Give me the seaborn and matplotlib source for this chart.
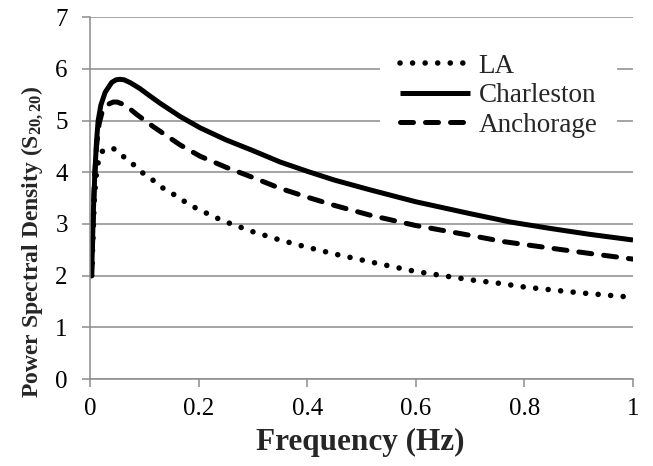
import matplotlib
matplotlib.use("Agg")
import matplotlib.pyplot as plt
import seaborn as sns
import pandas as pd

# ---- data ----
freq_la = [0.003, 0.008, 0.012, 0.016, 0.022, 0.030, 0.037, 0.043, 0.052, 0.061, 0.080, 0.098, 0.117,
           0.135, 0.153, 0.175, 0.193, 0.230, 0.258, 0.300, 0.350, 0.400, 0.450, 0.528,
           0.600, 0.700, 0.755, 0.800, 0.900, 1.000]
psd_la = [2.00, 3.50, 4.00, 4.25, 4.40, 4.46, 4.47, 4.46, 4.40, 4.31, 4.15, 3.98, 3.84,
          3.69, 3.58, 3.43, 3.32, 3.13, 3.01, 2.85, 2.69, 2.55, 2.42, 2.24,
          2.08, 1.92, 1.85, 1.78, 1.67, 1.58]

freq_ch = [0.003, 0.006, 0.009, 0.012, 0.015, 0.020, 0.028, 0.040, 0.048, 0.055, 0.063, 0.075, 0.092,
           0.110, 0.130, 0.166, 0.203, 0.250, 0.300, 0.350, 0.400, 0.450, 0.516, 0.600,
           0.700, 0.773, 0.850, 0.920, 1.000]
psd_ch = [2.00, 3.20, 4.00, 4.60, 5.00, 5.30, 5.55, 5.74, 5.79, 5.80, 5.79, 5.73, 5.62,
          5.48, 5.33, 5.08, 4.86, 4.63, 4.42, 4.20, 4.02, 3.85, 3.66, 3.43,
          3.20, 3.04, 2.91, 2.80, 2.69]

freq_an = [0.003, 0.008, 0.012, 0.017, 0.022, 0.030, 0.036, 0.043, 0.050, 0.060, 0.072, 0.086, 0.117, 0.166,
           0.203, 0.250, 0.300, 0.350, 0.400, 0.450, 0.516, 0.600, 0.700, 0.761, 0.850,
           0.920, 1.000]
psd_an = [2.00, 3.80, 4.50, 4.95, 5.15, 5.28, 5.33, 5.36, 5.36, 5.32, 5.24, 5.12, 4.88, 4.53,
          4.31, 4.10, 3.90, 3.69, 3.52, 3.36, 3.17, 2.97, 2.78, 2.66, 2.53,
          2.43, 2.32]

labels = ["LA", "Charleston", "Anchorage"]
x_ticks = [0, 0.2, 0.4, 0.6, 0.8, 1]
x_tick_labels = ["0", "0.2", "0.4", "0.6", "0.8", "1"]
y_ticks = [0, 1, 2, 3, 4, 5, 6, 7]

# ---- style ----
sns.set_theme(style="white")
plt.rcParams["font.family"] = ["Liberation Serif", "DejaVu Serif"]
plt.rcParams["mathtext.fontset"] = "custom"
plt.rcParams["mathtext.rm"] = "Liberation Serif"
plt.rcParams["mathtext.bf"] = "Liberation Serif:bold"
plt.rcParams["mathtext.it"] = "Liberation Serif:italic"

fig = plt.figure(figsize=(6.53, 4.66), dpi=100)
ax = fig.add_axes([90 / 653, 1 - 379 / 466, (633 - 90) / 653, (379 - 17.3) / 466])

grey = "#8c8c8c"

series = [
    (freq_la, psd_la, labels[0], dict(linestyle=(0, (0.01, 2.25)), dash_capstyle="round", linewidth=4.0)),
    (freq_ch, psd_ch, labels[1], dict(linestyle="-", linewidth=3.6, solid_capstyle="butt",
                                      solid_joinstyle="round")),
    (freq_an, psd_an, labels[2], dict(linestyle=(0, (2.6, 2.4)), dash_capstyle="round", linewidth=3.6)),
]
for fx, fy, lab, kw in series:
    df = pd.DataFrame({"f": fx, "psd": fy})
    sns.lineplot(data=df, x="f", y="psd", ax=ax, color="black", label=lab, **kw)

ax.set_xlim(0, 1)
ax.set_ylim(0, 7)
ax.set_xticks(x_ticks)
ax.set_xticklabels(x_tick_labels)
ax.set_yticks(y_ticks)

ax.yaxis.grid(True, color=grey, linewidth=1.1)
ax.xaxis.grid(False)
for s in ["top", "right"]:
    ax.spines[s].set_visible(False)
for s in ["left", "bottom"]:
    ax.spines[s].set_color(grey)
    ax.spines[s].set_linewidth(1.1)

ax.tick_params(axis="both", which="major", direction="out", length=6, width=1.1,
               color=grey, labelsize=18, labelcolor="black", left=True, bottom=True)
ax.tick_params(axis="y", pad=10)
ax.tick_params(axis="x", pad=8)

ax.set_xlabel("Frequency (Hz)", fontsize=22.5, fontweight="bold")
ax.set_ylabel(r"Power Spectral Density (S$_{\mathbf{20,20}}$)", fontsize=17,
              fontweight="bold")
ax.xaxis.set_label_coords(0.497, -0.135)
ax.yaxis.set_label_coords(-0.083, 0.38)

leg = ax.legend(loc="upper left", bbox_to_anchor=(0.534, 0.955), fontsize=19.5,
                frameon=True, handlelength=2.6, handletextpad=0.3,
                labelspacing=0.17, borderpad=0.74, borderaxespad=0)
leg.get_frame().set_facecolor("white")
leg.get_frame().set_edgecolor("none")
leg.get_frame().set_alpha(1)
leg.get_frame().set_boxstyle("square", pad=0)

fig.savefig("out.png", dpi=100)
